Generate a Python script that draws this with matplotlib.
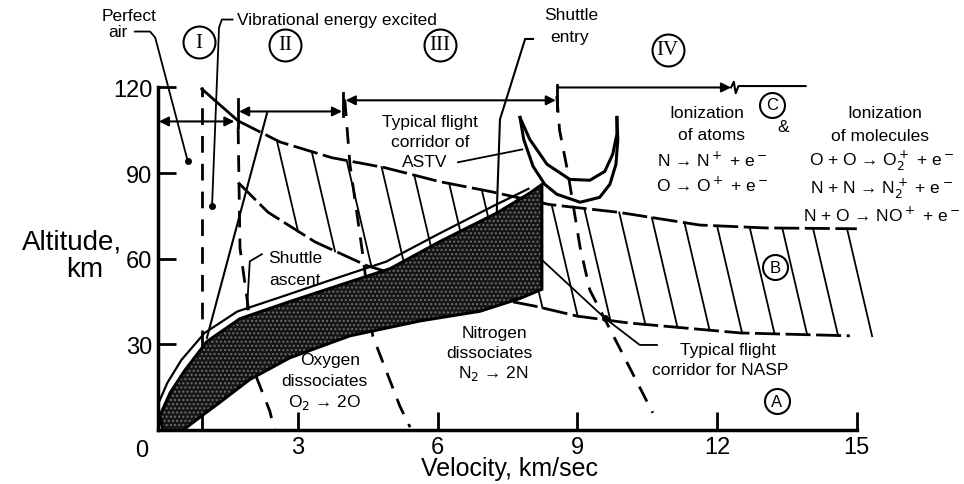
import matplotlib.pyplot as plt
import numpy as np

plt.rcParams['font.family'] = ['Liberation Sans', 'DejaVu Sans']

# dark stippled band (velocity km/s, altitude km)
band_top_v = [0.04, 0.26, 0.58, 1.05, 1.76, 2.83, 3.76, 4.98, 6.05, 7.27, 7.98, 8.24]
band_top_h = [5, 13, 21, 31, 39, 45, 50, 56.5, 66, 76, 83, 86]
band_low_v = [0.1, 0.54, 0.9, 1.33, 1.97, 2.83, 4.12, 5.62, 6.91, 7.77, 8.24]
band_low_h = [0, 0, 4.5, 9.7, 17.7, 25.3, 33, 38.2, 41.6, 46.1, 49.3]

# thin shuttle ascent line just above the band
ascent_v = [0.0, 0.2, 0.5, 1.0, 1.7, 2.8, 3.7, 4.9, 6.0, 7.2, 7.95]
ascent_h = [9, 16.5, 24.5, 34, 41.5, 47.5, 52.5, 59, 68.5, 78.5, 84.5]

# region boundaries (dashed)
dash_I_v = [0.94, 0.94]
dash_I_h = [0, 120]
dash_II_v = [1.72, 1.76, 1.91, 2.12, 2.4, 2.5]
dash_II_h = [106, 63.7, 46.2, 18.2, 6.6, 0]
dash_III_v = [4.01, 4.12, 4.4, 4.61, 5.19, 5.41]
dash_III_h = [115.8, 93.1, 60.9, 32.9, 8.4, 1]
dash_IV_v = [8.56, 8.62, 8.8, 9.06, 9.27, 9.9, 10.62]
dash_IV_h = [117, 105, 90, 64, 49, 29, 6]

# hatched zone B
upper_B_v = [1.72, 2.62, 3.73, 4.87, 6.05, 7.12, 8.4, 9.87, 11.63, 13.03, 15.0]
upper_B_h = [108.3, 100.9, 95.4, 91.9, 87, 83.6, 79, 76.3, 71.8, 70.8, 70.5]
lower_B_v = [1.72, 2.36, 3.37, 4.48, 6.0, 8.09, 9.0, 10.1, 12.5, 14.85]
lower_B_h = [86.7, 76.3, 65.9, 57.6, 50, 43.4, 39.9, 37.5, 34, 33]
hatch_v = [2.55, 3.3, 4.05, 4.8, 5.5, 6.25, 6.95, 7.7, 8.45, 9.15, 9.9,
           10.6, 11.3, 12.0, 12.7, 13.4, 14.06, 14.79]
hatch_slope = 0.0143  # km/s shift per km of altitude

# ASTV corridor (U shape)
u_out_v = [7.77, 7.85, 8.05, 8.30, 8.56, 9.06, 9.48, 9.70, 9.83, 9.87, 9.85]
u_out_h = [109.5, 101.8, 92.4, 86.1, 82.6, 79.8, 81.5, 86.1, 93.1, 101.8, 109.5]
u_in_v = [7.77, 7.98, 8.35, 8.84, 9.27, 9.59, 9.76, 9.85, 9.85]
u_in_h = [109.5, 101.8, 93.1, 87.8, 87.5, 90.6, 96.6, 103.6, 109.5]

# other solid lines
vib_v = [2.34, 1.05]
vib_h = [111, 32.3]
diag_v = [0.94, 1.72]
diag_h = [119.5, 108.3]
entry_v = [8.05, 7.88, 7.34, 7.27]
entry_h = [137, 137, 108.8, 75.6]

fig = plt.figure(figsize=(9.64, 4.85), dpi=100)
ax = fig.add_axes([158 / 964, 54 / 485, 792 / 964, 431 / 485])
ax.set_xlim(0, 17)
ax.set_ylim(0, 151)

# hatch lines of zone B
for v0 in hatch_v:
    h0 = np.interp(v0, upper_B_v, upper_B_h)
    hh = np.linspace(h0, 0, 400)
    vv = v0 + hatch_slope * (h0 - hh)
    below = hh <= np.interp(vv, lower_B_v, lower_B_h)
    i = np.argmax(below)
    ax.plot([v0, vv[i]], [h0, hh[i]], color='k', lw=1.3, zorder=2)

ax.plot(upper_B_v, upper_B_h, color='k', lw=2, ls=(0, (9, 2)), zorder=2)
ax.plot(lower_B_v, lower_B_h, color='k', lw=2, ls=(0, (9, 2)), zorder=2)

dash = (0, (6, 4))
for xs, ys in [(dash_I_v, dash_I_h), (dash_II_v, dash_II_h),
               (dash_III_v, dash_III_h), (dash_IV_v, dash_IV_h)]:
    ax.plot(xs, ys, color='k', lw=2, ls=dash, zorder=2)

ax.plot(vib_v, vib_h, color='k', lw=1.5, zorder=2)
ax.plot(diag_v, diag_h, color='k', lw=2, zorder=2)
ax.plot(entry_v, entry_h, color='k', lw=1.5, zorder=2)

# band
poly_v = band_top_v + band_low_v[::-1]
poly_h = band_top_h + band_low_h[::-1]
ax.fill(poly_v, poly_h, facecolor='#151515', edgecolor='#6e6e6e', hatch='....',
        lw=0, zorder=3)
ax.fill(poly_v, poly_h, facecolor='none', edgecolor='k', lw=2.2, zorder=4)
ax.plot(ascent_v, ascent_h, color='k', lw=1.6, zorder=4)

# ASTV corridor
ax.plot(u_out_v, u_out_h, color='k', lw=2.2, zorder=4)
ax.plot(u_in_v, u_in_h, color='k', lw=2.2, zorder=4)

# region arrows
arr = dict(arrowstyle='<|-|>', color='k', lw=1.5, mutation_scale=14, shrinkA=0, shrinkB=0)
ax.annotate('', xy=(0.02, 108.1), xytext=(1.64, 108.1), arrowprops=arr)
ax.annotate('', xy=(1.74, 111.6), xytext=(3.95, 111.6), arrowprops=arr)
ax.annotate('', xy=(4.03, 115.5), xytext=(8.54, 115.5), arrowprops=arr)
ax.annotate('', xy=(8.58, 120), xytext=(12.3, 120),
            arrowprops=dict(arrowstyle='<|-', color='k', lw=1.5, mutation_scale=14,
                            shrinkA=0, shrinkB=0))
ax.plot([12.3, 12.36, 12.4, 12.46, 13.9], [120, 122, 118, 120.5, 120.5], color='k', lw=1.5)
for tv, t0, t1 in [(1.72, 106, 116), (3.98, 110, 118), (8.56, 112, 121)]:
    ax.plot([tv, tv], [t0, t1], color='k', lw=2)

# circled labels
for txt, v, h in [('I', 0.88, 135.8), ('II', 2.73, 135), ('III', 6.05, 135),
                  ('IV', 10.94, 133.3)]:
    ax.plot(v, h, 'o', ms=23, mfc='white', mec='k', mew=1.5, clip_on=False)
    ax.text(v, h, txt, ha='center', va='center', fontsize=15,
            family='Liberation Serif', clip_on=False)
for txt, v, h in [('C', 13.18, 114), ('B', 13.24, 57), ('A', 13.28, 10.1)]:
    ax.plot(v, h, 'o', ms=18, mfc='white', mec='k', mew=1.5, zorder=5)
    ax.text(v, h, txt, ha='center', va='center', fontsize=12, zorder=6)

# annotations
fs = 12.5
ax.text(-0.62, 145.2, 'Perfect', ha='center', va='center', fontsize=fs, clip_on=False)
ax.text(-0.86, 139.6, 'air', ha='center', va='center', fontsize=fs, clip_on=False)
ax.plot([-0.5, -0.17, -0.06, 0.64], [139.6, 139.6, 137.5, 94.1], color='k', lw=1.3,
        clip_on=False)
ax.plot(0.64, 94.1, 'ko', ms=4)
ax.text(1.7, 143.8, 'Vibrational energy excited', ha='left', va='center',
        fontsize=fs, clip_on=False)
ax.plot([1.6, 1.37, 1.31, 1.16], [143.8, 143.8, 141, 78.4], color='k', lw=1.3,
        clip_on=False)
ax.plot(1.16, 78.4, 'ko', ms=4)
ax.text(8.88, 145.6, 'Shuttle', ha='center', va='center', fontsize=fs, clip_on=False)
ax.text(8.84, 137.9, 'entry', ha='center', va='center', fontsize=fs, clip_on=False)

ax.text(5.84, 108.1, 'Typical flight', ha='center', va='center', fontsize=fs)
ax.text(5.84, 101.1, 'corridor of', ha='center', va='center', fontsize=fs)
ax.text(5.73, 94.1, 'ASTV', ha='center', va='center', fontsize=fs,
        bbox=dict(fc='white', ec='none', pad=0.5))
ax.plot([6.44, 7.82], [93.8, 98.3], color='k', lw=1.3, zorder=4)

ax.text(2.94, 60.5, 'Shuttle', ha='center', va='center', fontsize=fs, zorder=5)
ax.text(2.94, 52.8, 'ascent', ha='center', va='center', fontsize=fs, zorder=5)
ax.plot([2.23, 1.97, 1.91], [61.6, 59.1, 42.3], color='k', lw=1.3, zorder=5)

ax.text(3.69, 24.8, 'Oxygen', ha='center', va='center', fontsize=fs)
ax.text(3.58, 17.5, 'dissociates', ha='center', va='center', fontsize=fs)
ax.text(3.58, 10.1, 'O$_2$ → 2O', ha='center', va='center', fontsize=fs)
ax.text(7.23, 34.3, 'Nitrogen', ha='center', va='center', fontsize=fs)
ax.text(7.12, 27.3, 'dissociates', ha='center', va='center', fontsize=fs)
ax.text(7.19, 20.3, 'N$_2$ → 2N', ha='center', va='center', fontsize=fs)

ax.text(12.23, 28.3, 'Typical flight', ha='center', va='center', fontsize=fs)
ax.text(12.06, 21.3, 'corridor for NASP', ha='center', va='center', fontsize=fs)
ax.plot([8.26, 9.59, 10.34, 10.71], [59.3, 39.2, 29.8, 29.8], color='k', lw=1.3, zorder=5)
ax.plot(9.59, 39.2, 'ko', ms=4, zorder=5)

ax.text(11.78, 111.3, 'Ionization', ha='center', va='center', fontsize=fs)
ax.text(11.89, 103.6, 'of atoms', ha='center', va='center', fontsize=fs)
ax.text(11.89, 94.8, 'N → N$^+$ + e$^-$', ha='center', va='center', fontsize=fs)
ax.text(11.89, 86.1, 'O → O$^+$ + e$^-$', ha='center', va='center', fontsize=fs)
ax.text(13.41, 106.4, '&', ha='center', va='center', fontsize=fs)
ax.text(15.6, 111.3, 'Ionization', ha='center', va='center', fontsize=fs, clip_on=False)
ax.text(15.49, 103.2, 'of molecules', ha='center', va='center', fontsize=fs, clip_on=False)
ax.text(15.54, 94.8, 'O + O → O$_2^+$ + e$^-$', ha='center', va='center', fontsize=fs,
        clip_on=False)
ax.text(15.54, 85, 'N + N → N$_2^+$ + e$^-$', ha='center', va='center', fontsize=fs,
        clip_on=False)
ax.text(15.54, 75.6, 'N + O → NO$^+$ + e$^-$', ha='center', va='center', fontsize=fs,
        clip_on=False)

# axes styling
for s in ['top', 'right']:
    ax.spines[s].set_visible(False)
ax.spines['left'].set_bounds(0, 120)
ax.spines['bottom'].set_bounds(0, 15)
ax.spines['left'].set_linewidth(2.5)
ax.spines['bottom'].set_linewidth(2.5)
ax.set_xticks([0, 3, 6, 9, 12, 15])
ax.set_yticks([30, 60, 90, 120])
ax.tick_params(direction='in', length=13, width=2, labelsize=17, pad=4)
ax.text(-0.2, -3, '0', ha='right', va='top', fontsize=17, clip_on=False)
ax.set_xticklabels(['', '3', '6', '9', '12', '15'])
ax.text(7.55, -13.2, 'Velocity, km/sec', ha='center', va='center', fontsize=18,
        clip_on=False)
ax.text(-1.85, 66, 'Altitude,', ha='center', va='center', fontsize=20, clip_on=False)
ax.text(-1.57, 56.5, 'km', ha='center', va='center', fontsize=20, clip_on=False)

fig.savefig('out.png', dpi=100)
